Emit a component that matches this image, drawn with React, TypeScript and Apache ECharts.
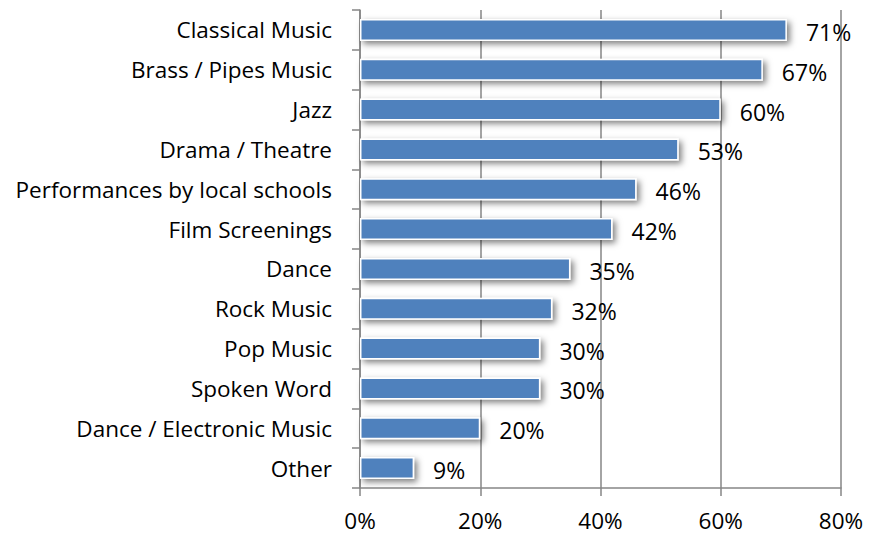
import React, { useEffect, useRef } from "react";
import * as echarts from "echarts";

const categories = [
  "Classical Music",
  "Brass / Pipes Music",
  "Jazz",
  "Drama / Theatre",
  "Performances by local schools",
  "Film Screenings",
  "Dance",
  "Rock Music",
  "Pop Music",
  "Spoken Word",
  "Dance / Electronic Music",
  "Other",
];
const values = [71, 67, 60, 53, 46, 42, 35, 32, 30, 30, 20, 9];
const xTicks = [0, 20, 40, 60, 80];

const FONT = "'Open Sans', Lato, sans-serif";
const AXIS = "#868686";

export default function App() {
  const ref = useRef<HTMLDivElement>(null);
  useEffect(() => {
    if (!ref.current) return;
    const chart = echarts.init(ref.current, undefined, { renderer: "svg" });
    chart.setOption({
      animation: false,
      backgroundColor: "#ffffff",
      grid: { left: 360, right: 30, top: 10, bottom: 49, containLabel: false },
      xAxis: {
        type: "value",
        min: xTicks[0],
        max: xTicks[xTicks.length - 1],
        interval: 20,
        axisLine: { show: true, lineStyle: { color: AXIS, width: 1.5 } },
        axisTick: { show: true, length: 8, lineStyle: { color: AXIS, width: 1.5 } },
        splitLine: { show: true, lineStyle: { color: AXIS, width: 1.5 } },
        axisLabel: {
          formatter: "{value}%",
          color: "#000",
          fontFamily: FONT,
          fontSize: 22.5,
          margin: 21,
        },
      },
      yAxis: {
        type: "category",
        inverse: true,
        data: categories,
        axisLine: { show: true, lineStyle: { color: AXIS, width: 1.5 } },
        axisTick: { show: true, length: 8, lineStyle: { color: AXIS, width: 1.5 } },
        splitLine: { show: false },
        axisLabel: {
          color: "#000",
          fontFamily: FONT,
          fontSize: 22.5,
          margin: 28,
        },
      },
      series: [
        {
          type: "bar",
          data: values,
          barWidth: 22,
          itemStyle: {
            color: "#4F81BD",
            borderColor: "#ffffff",
            borderWidth: 1.5,
            shadowColor: "rgba(0,0,0,0.5)",
            shadowBlur: 6,
            shadowOffsetX: 3,
            shadowOffsetY: 3,
          },
          label: {
            show: true,
            position: "right",
            distance: 19,
            formatter: "{c}%",
            color: "#000",
            fontFamily: FONT,
            fontSize: 23,
            offset: [0, 2],
          },
        },
      ],
    });
    return () => chart.dispose();
  }, []);
  return <div ref={ref} style={{ width: 871, height: 537, margin: -8 }} />;
}
